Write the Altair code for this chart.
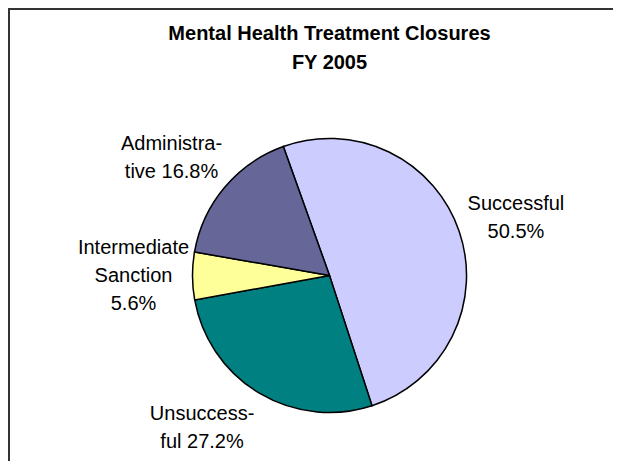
import math
import altair as alt
import pandas as pd

# ---- data ----
categories = ["Successful", "Unsuccessful", "Intermediate Sanction", "Administrative"]
values = [50.5, 27.2, 5.6, 16.8]
label_lines = [
    "Successful\n50.5%",
    "Unsuccess-\nful 27.2%",
    "Intermediate\nSanction\n5.6%",
    "Administra-\ntive 16.8%",
]
colors = ["#CCCCFF", "#008080", "#FFFF99", "#666699"]
title_lines = ["Mental Health Treatment Closures", "FY 2005"]

df = pd.DataFrame({
    "category": categories,
    "value": values,
    "label": label_lines,
    "order": list(range(len(categories))),
})

W, H = 605, 453
cx, cy = 321.5, 267.5
FONT = "Liberation Sans"
LH = 28

start = -19.7 * math.pi / 180
total = float(sum(values))
theta_scale = alt.Scale(domain=[0, total], range=[start, start + 2 * math.pi])

pie = alt.Chart(df).mark_arc(outerRadius=137, stroke="black", strokeWidth=1.5).encode(
    theta=alt.Theta("value:Q", stack=True, scale=theta_scale),
    order=alt.Order("order:Q"),
    color=alt.Color("category:N", scale=alt.Scale(domain=categories, range=colors), legend=None),
    x=alt.value(cx),
    y=alt.value(cy),
)


def label_layer(cat, text, dx, dy):
    n = text.count("\n") + 1
    return (
        alt.Chart(df)
        .transform_window(cum="sum(value)", sort=[alt.SortField("order")])
        .transform_calculate(mid="datum.cum - datum.value / 2")
        .transform_filter(alt.datum.category == cat)
        .mark_text(radius=196, dx=dx, dy=dy - (n - 1) * LH / 2, fontSize=20, font=FONT,
                   lineBreak="\n", lineHeight=LH, align="center", baseline="middle",
                   color="black")
        .encode(
            theta=alt.Theta("mid:Q", stack=False, scale=theta_scale),
            text="label:N",
            x=alt.value(cx),
            y=alt.value(cy),
        )
    )


offsets = [(1, 6), (-27, -16), (0, 0), (-8, 9)]
labels = [label_layer(c, t, dx, dy) for c, t, (dx, dy) in zip(categories, label_lines, offsets)]

title = alt.Chart(alt.Data(values=[{"t": "\n".join(title_lines)}])).mark_text(
    fontSize=20, fontWeight="bold", font=FONT, lineBreak="\n", lineHeight=29,
    align="center", baseline="middle", color="black"
).encode(text="t:N", x=alt.value(cx), y=alt.value(25.5))

# chart frame: left and top edges
frame_data = alt.Data(values=[{"f": 1}])
left = alt.Chart(frame_data).mark_rule(color="#333333", strokeWidth=2).encode(
    x=alt.value(1), y=alt.value(0), y2=alt.value(H))
top = alt.Chart(frame_data).mark_rule(color="#333333", strokeWidth=2).encode(
    y=alt.value(1), x=alt.value(0), x2=alt.value(W))

chart = alt.layer(left, top, pie, *labels, title).properties(
    width=W, height=H, padding=0, autosize=alt.AutoSizeParams(type="none")
).configure(background="white").configure_view(stroke="transparent", strokeWidth=0)

chart.save("out.html", embed_options={"renderer": "svg", "actions": False})
